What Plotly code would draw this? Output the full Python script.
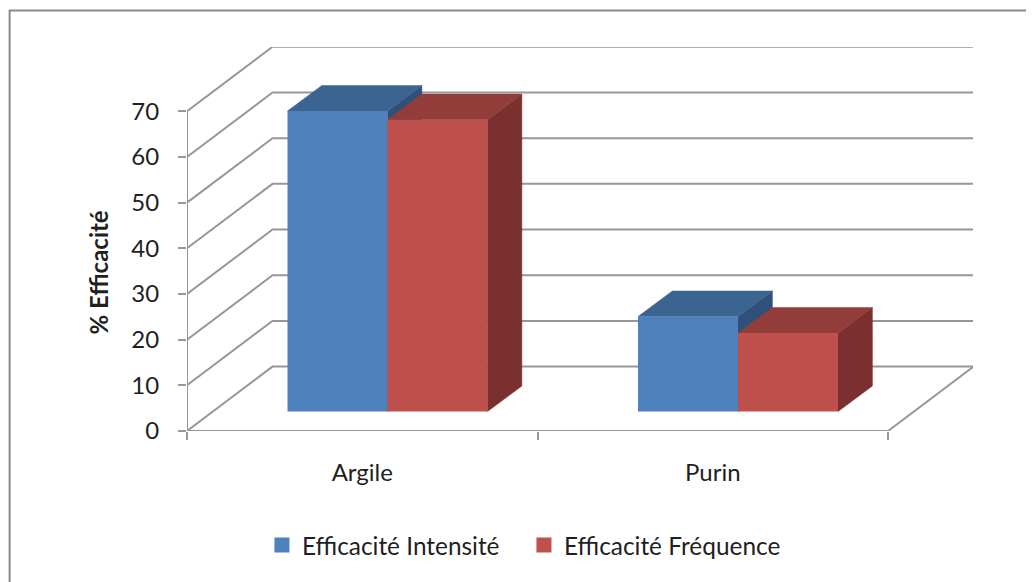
import plotly.graph_objects as go

categories = ["Argile", "Purin"]
intensite = [65.8, 20.8]
frequence = [63.9, 17.2]
series_names = ["Efficacité Intensité", "Efficacité Fréquence"]
y_ticks = [0, 10, 20, 30, 40, 50, 60, 70]

# Oblique projection of the Excel-like 3D chart, in axis units
WALL_DX, WALL_DY = 0.244, 14.1      # depth of the chart box
FLOOR_DX, FLOOR_DY = 0.072, 4.25    # where the bar fronts stand
BAR_DX, BAR_DY = 0.098, 5.6         # depth of a bar
BAR_W = 0.2853
GRID = "#979797"
FONT = "Lato, Carlito, Calibri, sans-serif"
TEXT = "#1f1f1f"

colors = [
    {"front": "#4F81BD", "top": "#3C6491", "side": "#2F5179"},
    {"front": "#C0504D", "top": "#933D3A", "side": "#79302E"},
]
values = [intensite, frequence]

fig = go.Figure()


def line(xs, ys, width=2):
    fig.add_trace(go.Scatter(x=xs, y=ys, mode="lines", line=dict(color=GRID, width=width),
                             showlegend=False, hoverinfo="skip", cliponaxis=False))


def poly(xs, ys, color):
    fig.add_trace(go.Scatter(x=xs, y=ys, mode="lines", fill="toself", fillcolor=color,
                             line=dict(color=color, width=0.5),
                             showlegend=False, hoverinfo="skip"))


# walls, gridlines and floor
for v in y_ticks:
    line([0, WALL_DX, 2 + WALL_DX], [v, v + WALL_DY, v + WALL_DY])
line([2, 2 + WALL_DX], [0, WALL_DY])
line([0, 2], [0, 0])
line([0, 0], [0, max(y_ticks)])

# depth faces of the bars, computed from the values
for s, vals in enumerate(values):
    for c, v in enumerate(vals):
        x0 = c + 0.5 + FLOOR_DX - BAR_W + s * BAR_W
        x1 = x0 + BAR_W
        y0 = FLOOR_DY
        y1 = FLOOR_DY + v
        poly([x1, x1 + BAR_DX, x1 + BAR_DX, x1, x1],
             [y0, y0 + BAR_DY, y1 + BAR_DY, y1, y0], colors[s]["side"])
        poly([x0, x0 + BAR_DX, x1 + BAR_DX, x1, x0],
             [y1, y1 + BAR_DY, y1 + BAR_DY, y1, y1], colors[s]["top"])

# front faces on an overlaid subplot so they sit above the depth faces
for s, vals in enumerate(values):
    fig.add_trace(go.Bar(
        x=[c + 0.5 + FLOOR_DX - BAR_W / 2 + (s - 0.5) * BAR_W + BAR_W / 2 for c in range(len(vals))],
        y=vals, base=FLOOR_DY, width=BAR_W, name=series_names[s],
        marker=dict(color=colors[s]["front"], line=dict(width=0)),
        xaxis="x2", yaxis="y2", showlegend=False))

# legend swatches
for s, name in enumerate(series_names):
    fig.add_trace(go.Scatter(x=[None], y=[None], mode="markers", name=name,
                             marker=dict(symbol="square", size=15, color=colors[s]["front"]),
                             showlegend=True))

# the page puts the figure 8 px in from the window's top-left corner
PAGE = 8
L, R, T, B = 186.5 - PAGE, 973 - PAGE, 46.5 - PAGE, 431.5 - PAGE
W, H = 1034 - PAGE, 582 - PAGE
fx = lambda px: (px - PAGE - L) / (R - L)
fy = lambda px: (B - (px - PAGE)) / (B - T)

fig.update_layout(
    width=W, height=H, autosize=False,
    margin=dict(l=L, r=W - R, t=T, b=H - B, pad=0),
    paper_bgcolor="white", plot_bgcolor="white",
    barmode="overlay",
    font=dict(family=FONT, color=TEXT, size=24),
    xaxis=dict(range=[0, (R - L) / 350.75], tickmode="array", tickvals=[0.5, 1.5], ticktext=categories,
               ticks="", showgrid=False, zeroline=False, showline=False,
               minor=dict(tick0=0, dtick=1, ticks="outside", ticklen=8, tickwidth=2, tickcolor=GRID, showgrid=False),
               ticklabelstandoff=25, tickfont=dict(size=24, family=FONT, color=TEXT)),
    yaxis=dict(range=[0, (B - T) / 4.58], tickmode="array", tickvals=y_ticks,
               ticks="outside", ticklen=8, tickwidth=2, tickcolor=GRID,
               showgrid=False, zeroline=False, showline=False,
               ticklabelstandoff=14, tickfont=dict(size=24, family=FONT, color=TEXT)),
    xaxis2=dict(overlaying="x", matches="x", visible=False),
    yaxis2=dict(overlaying="y", matches="y", visible=False),
    showlegend=True,
    legend=dict(orientation="h", x=fx(261.5), xanchor="left", y=fy(546), yanchor="middle",
                font=dict(size=24.4, family=FONT, color=TEXT), bgcolor="rgba(0,0,0,0)",
                entrywidthmode="pixels", entrywidth=217,
                itemclick=False, itemdoubleclick=False),
    annotations=[dict(text="<b>% Efficacité</b>", xref="paper", yref="paper", x=fx(98), y=fy(273),
                      xanchor="center", yanchor="middle", textangle=-90, showarrow=False,
                      font=dict(size=24, family=FONT, color=TEXT))],
    shapes=[dict(type="rect", xref="paper", yref="paper", x0=fx(9), x1=fx(1100), y0=fy(700), y1=fy(10),
                 line=dict(color="#8a8a8a", width=2), fillcolor="rgba(0,0,0,0)", layer="below")],
)

fig.write_html("out.html")
